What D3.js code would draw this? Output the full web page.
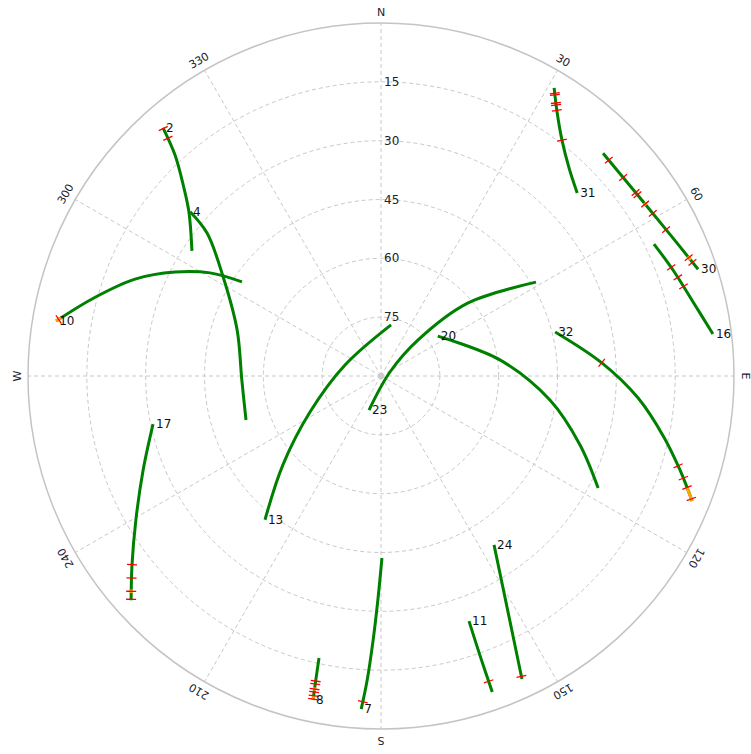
<!DOCTYPE html>
<html>
<head>
  <meta charset="utf-8" />
  <title>Sky plot</title>
  <style>
    body { margin: 0; background: #fff; }
    text { font-family: "DejaVu Sans", sans-serif; }
  </style>
  <script src="https://cdnjs.cloudflare.com/ajax/libs/d3/7.8.5/d3.min.js"></script>
</head>
<body>
  <div id="chart"></div>
  <script>
    // satellites, each track ends at the labelled position
    var prns = [31, 30, 16, 32, 20, 23, 13, 10, 2, 4, 17, 8, 7, 24, 11];
    var trackAz = [
      [31.0, 33.7, 37.5, 42.1, 47.0],
      [44.9, 54.1, 63.1, 71.4],
      [64.2, 70.05, 76.7, 82.8],
      [111.9, 107.45, 102.2, 94.9, 86.6, 75.8],
      [117.3, 109.1, 98.1, 82.3, 54.9],
      [58.8, 50.0, 45.8, 66, 199.4],
      [11.1, 287.0, 243.1, 227.8, 218.9],
      [304.1, 301.1, 296.8, 291.5, 285.4, 279.6],
      [303.5, 310.5, 314.0, 317.0, 318.7],
      [251.95, 268.4, 287.7, 302.1, 309.4, 310.7],
      [228.1, 232.8, 239.55, 248.45, 258.1],
      [192.4, 192.1, 191.85],
      [179.7, 180.8, 181.7, 182.6, 183.4],
      [155.05, 151.7, 146.2],
      [160.6, 160.5, 160.25]
    ];
    var trackEl = [
      [4.3, 9.1, 14.2, 18.5, 21.6],
      [9.8, 10.0, 8.2, 4.7],
      [12.7, 10.8, 8.2, 4.7],
      [4.5, 10.1, 16.2, 24.2, 33.6, 44.2],
      [27.7, 36.3, 46.5, 59.4, 72.3],
      [43.8, 61.0, 76.8, 87.5, 80.8],
      [76.7, 80.4, 69.7, 56.2, 42.9],
      [47.2, 39.1, 31.2, 22.6, 14.4, 6.0],
      [32.2, 25.6, 19.9, 13.0, 5.8],
      [53.8, 54.5, 51.5, 42.5, 32.6, 25.8],
      [4.4, 10.3, 17.5, 24.8, 30.6],
      [16.4, 10.7, 5.6],
      [43.6, 32.9, 22.7, 12.4, 4.9],
      [4.8, 21.7, 38.2],
      [4.6, 14.3, 23.6]
    ];
    // cycle slips, as share of the track length
    var slips = [
      [0.05, 0.065, 0.14, 0.16, 0.21, 0.49],
      [0.06, 0.21, 0.34, 0.36, 0.44, 0.52, 0.66, 0.90, 0.94],
      [0.27, 0.38, 0.48],
      [0.01, 0.065, 0.11, 0.17, 0.75],
      [], [], [],
      [0.985],
      [0.91, 0.995],
      [],
      [0.005, 0.05, 0.125, 0.2],
      [0.55, 0.62, 0.74, 0.81, 0.9, 0.98],
      [0.95],
      [0.02],
      [0.15]
    ];
    // low signal parts of the track
    var lowSnr = [
      [], [[0.43, 0.45], [0.89, 0.92]], [], [[0, 0.065]], [], [], [],
      [[0.97, 1]], [], [], [[0.04, 0.06]], [[0.7, 0.78], [0.9, 1]], [], [], []
    ];
    var elevRings = [15, 30, 45, 60, 75];
    var azLabels = ['N', '30', '60', 'E', '120', '150', 'S', '210', '240', 'W', '300', '330'];

    var w = 751, h = 754, cx = 381, cy = 376, R = 353;
    var rScale = d3.scaleLinear().domain([90, 0]).range([0, R]);
    var rad = d => d * Math.PI / 180;
    function proj(az, el) {
      var r = rScale(el);
      return [cx + r * Math.sin(rad(az)), cy - r * Math.cos(rad(az))];
    }

    var svg = d3.select('#chart').append('svg')
      .attr('width', w)
      .attr('height', h);

    var grid = svg.append('g');
    grid.selectAll('circle.ring')
      .data(elevRings)
      .enter()
      .append('circle')
      .attr('cx', cx).attr('cy', cy)
      .attr('r', d => rScale(d))
      .attr('fill', 'none')
      .attr('stroke', '#c8c8c8')
      .attr('stroke-dasharray', '4,3');
    grid.selectAll('line.spoke')
      .data(d3.range(0, 360, 30))
      .enter()
      .append('line')
      .attr('x1', cx).attr('y1', cy)
      .attr('x2', d => proj(d, 0)[0])
      .attr('y2', d => proj(d, 0)[1])
      .attr('stroke', '#c8c8c8')
      .attr('stroke-dasharray', '4,3');
    grid.append('circle')
      .attr('cx', cx).attr('cy', cy).attr('r', R)
      .attr('fill', 'none')
      .attr('stroke', '#c4c4c4')
      .attr('stroke-width', 1.5);
    grid.append('circle')
      .attr('cx', cx).attr('cy', cy).attr('r', 3)
      .attr('fill', '#ccc');

    grid.selectAll('text.ring')
      .data(elevRings)
      .enter()
      .append('text')
      .attr('x', cx + 3)
      .attr('y', d => cy - rScale(d))
      .attr('dominant-baseline', 'central')
      .attr('font-size', 12)
      .attr('fill', '#222')
      .text(d => d);

    grid.selectAll('text.az')
      .data(azLabels)
      .enter()
      .append('text')
      .attr('transform', (d, i) => {
        var p = [cx + (R + 11) * Math.sin(rad(i * 30)), cy - (R + 11) * Math.cos(rad(i * 30))];
        return 'translate(' + p[0] + ',' + p[1] + ') rotate(' + (i * 30) + ')';
      })
      .attr('text-anchor', 'middle')
      .attr('dominant-baseline', 'central')
      .attr('font-size', 11)
      .attr('fill', '#223')
      .text(d => d);

    var line = d3.line().curve(d3.curveCatmullRom.alpha(0.5));

    prns.forEach(function (prn, i) {
      var pts = trackAz[i].map((a, k) => proj(a, trackEl[i][k]));
      var path = svg.append('path')
        .attr('d', line(pts))
        .attr('fill', 'none')
        .attr('stroke', '#008000')
        .attr('stroke-width', 3);
      var node = path.node();
      var L = node.getTotalLength();

      lowSnr[i].forEach(function (s) {
        var seg = d3.range(s[0], s[1] + 0.0001, 0.005).map(f => {
          var p = node.getPointAtLength(Math.min(f, 1) * L);
          return [p.x, p.y];
        });
        svg.append('path')
          .attr('d', d3.line()(seg))
          .attr('fill', 'none')
          .attr('stroke', '#ffa500')
          .attr('stroke-width', 3);
      });

      slips[i].forEach(function (f) {
        var p = node.getPointAtLength(f * L);
        var a = node.getPointAtLength(Math.max(0, f * L - 2));
        var b = node.getPointAtLength(Math.min(L, f * L + 2));
        var dx = b.x - a.x, dy = b.y - a.y, n = Math.hypot(dx, dy) || 1;
        var nx = -dy / n * 5, ny = dx / n * 5;
        svg.append('line')
          .attr('x1', p.x - nx).attr('y1', p.y - ny)
          .attr('x2', p.x + nx).attr('y2', p.y + ny)
          .attr('stroke', '#ff0000')
          .attr('stroke-width', 1.3);
      });

      var end = pts[pts.length - 1];
      svg.append('text')
        .attr('x', end[0] + 3)
        .attr('y', end[1])
        .attr('dominant-baseline', 'central')
        .attr('font-size', 12)
        .attr('fill', '#111')
        .text(prn);
    });
  </script>
</body>
</html>
